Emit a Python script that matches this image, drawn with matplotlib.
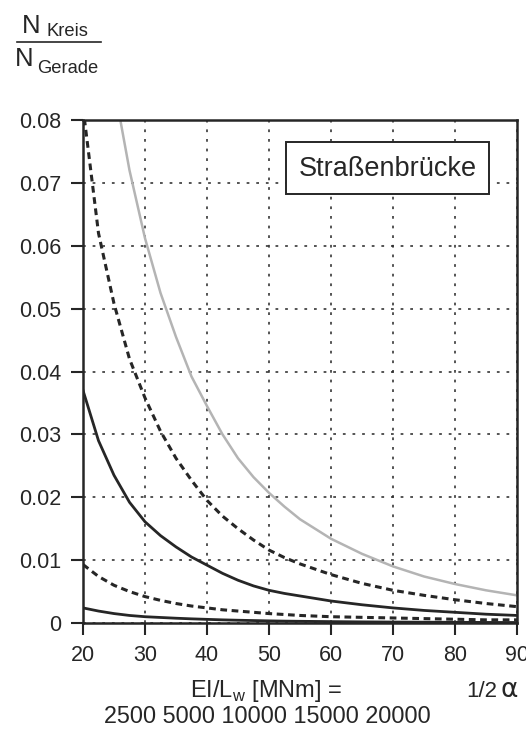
import matplotlib
matplotlib.use("Agg")
import matplotlib.pyplot as plt
from matplotlib.lines import Line2D
from matplotlib.patches import Rectangle

plt.rcParams['font.family'] = ['Liberation Sans', 'DejaVu Sans']
plt.rcParams['mathtext.fontset'] = 'custom'
plt.rcParams['mathtext.rm'] = 'Liberation Sans'

# half opening angle 1/2 alpha
x_alpha = [20, 22.5, 25, 27.5, 30, 32.5, 35, 37.5, 40, 42.5, 45, 47.5, 50, 52.5,
           55, 60, 65, 70, 75, 80, 85, 90]

# N_Kreis / N_Gerade for each bending stiffness EI/L_w [MNm]
ratio_2500 = [0.0024, 0.0019, 0.0015, 0.0012, 0.0010, 0.00088, 0.00076, 0.00066, 0.00058,
              0.00050, 0.00044, 0.00039, 0.00034, 0.00030,
              0.00027, 0.00022, 0.00018, 0.00015, 0.00013, 0.00011, 0.00009, 0.00008]
ratio_5000 = [0.0093, 0.0074, 0.0060, 0.0050, 0.0042, 0.0036, 0.0031, 0.0027, 0.0024,
              0.0021, 0.0019, 0.0017, 0.0015, 0.00135,
              0.0012, 0.0010, 0.0009, 0.0008, 0.0007, 0.0006, 0.0005, 0.0005]
ratio_10000 = [0.0370, 0.0290, 0.0235, 0.0192, 0.0161, 0.0139, 0.0121, 0.0105, 0.0092,
               0.0079, 0.0068, 0.0059, 0.0052, 0.0047,
               0.0043, 0.0035, 0.0029, 0.0024, 0.0020, 0.0017, 0.0014, 0.0012]
ratio_15000 = [0.0820, 0.0620, 0.0508, 0.0420, 0.0358, 0.0305, 0.0262, 0.0227, 0.0195,
               0.0170, 0.0150, 0.0132, 0.0116, 0.0104,
               0.0094, 0.0077, 0.0063, 0.0052, 0.0044, 0.0037, 0.0031, 0.0026]
ratio_20000 = [0.1450, 0.1150, 0.0855, 0.0720, 0.0612, 0.0525, 0.0455, 0.0392, 0.0345,
               0.0300, 0.0262, 0.0232, 0.0207, 0.0185,
               0.0165, 0.0134, 0.0110, 0.0090, 0.0074, 0.0062, 0.0052, 0.0044]

x_ticks = [20, 30, 40, 50, 60, 70, 80, 90]
y_ticks = [0, 0.01, 0.02, 0.03, 0.04, 0.05, 0.06, 0.07, 0.08]
y_labels = ['0', '0.01', '0.02', '0.03', '0.04', '0.05', '0.06', '0.07', '0.08']
stiffness_labels = ['2500', '5000', '10000', '15000', '20000']

W, H = 526, 733
INK = '#262626'


def fx(px):
    return px / W


def fy(py):
    return 1 - py / H


fig = plt.figure(figsize=(W / 100, H / 100), dpi=100)
ax = fig.add_axes([fx(83), fy(623), (517 - 83) / W, (623 - 120) / H])

dash = (0, (2.2, 1.5))
ax.plot(x_alpha, ratio_20000, color='#b4b4b4', lw=1.8)
ax.plot(x_alpha, ratio_15000, color=INK, lw=2.2, linestyle=dash)
ax.plot(x_alpha, ratio_10000, color=INK, lw=2.0)
ax.plot(x_alpha, ratio_5000, color=INK, lw=2.2, linestyle=dash)
ax.plot(x_alpha, ratio_2500, color=INK, lw=2.0)

ax.set_xlim(20, 90)
ax.set_ylim(0, 0.08)
ax.set_xticks(x_ticks)
ax.set_xticklabels([str(t) for t in x_ticks])
ax.set_yticks(y_ticks)
ax.set_yticklabels(y_labels)

ax.grid(True, color=INK, lw=1.1, linestyle=(0, (1.8, 4.5)))
for s in ax.spines.values():
    s.set_linewidth(1.8)
    s.set_color(INK)
ax.tick_params(direction='out', length=8.5, width=1.5, pad=7,
               labelsize=15.5, colors=INK)

# ordinate caption as a fraction
fig.text(fx(22), fy(33), 'N', fontsize=18.5, color=INK, va='baseline')
fig.text(fx(46), fy(36), 'Kreis', fontsize=13.2, color=INK, va='baseline')
fig.add_artist(Line2D([fx(17), fx(101)], [fy(42), fy(42)], color=INK, lw=1.2))
fig.text(fx(15), fy(66), 'N', fontsize=18.5, color=INK, va='baseline')
fig.text(fx(37), fy(73), 'Gerade', fontsize=13.2, color=INK, va='baseline')

# load case box
ax.add_patch(Rectangle((0.468, 0.853), 0.467, 0.103, transform=ax.transAxes,
                       fc='white', ec=INK, lw=1.4, zorder=4))
ax.text(0.7015, 0.903, 'Straßenbrücke', transform=ax.transAxes, fontsize=19.5,
        color=INK, ha='center', va='center', zorder=5)

# abscissa captions
fig.text(fx(266), fy(697), r'EI/L$_\mathregular{w}$ [MNm] =', fontsize=17,
         color=INK, ha='center', va='baseline')
fig.text(fx(466), fy(697), '1/2', fontsize=16, color=INK, va='baseline')
fig.text(fx(501), fy(697), 'α', fontsize=19, color=INK, va='baseline',
         family=['DejaVu Sans'])
fig.text(fx(104), fy(723), ' '.join(stiffness_labels), fontsize=16.8, color=INK,
         va='baseline')

fig.savefig('out.png', dpi=100)
